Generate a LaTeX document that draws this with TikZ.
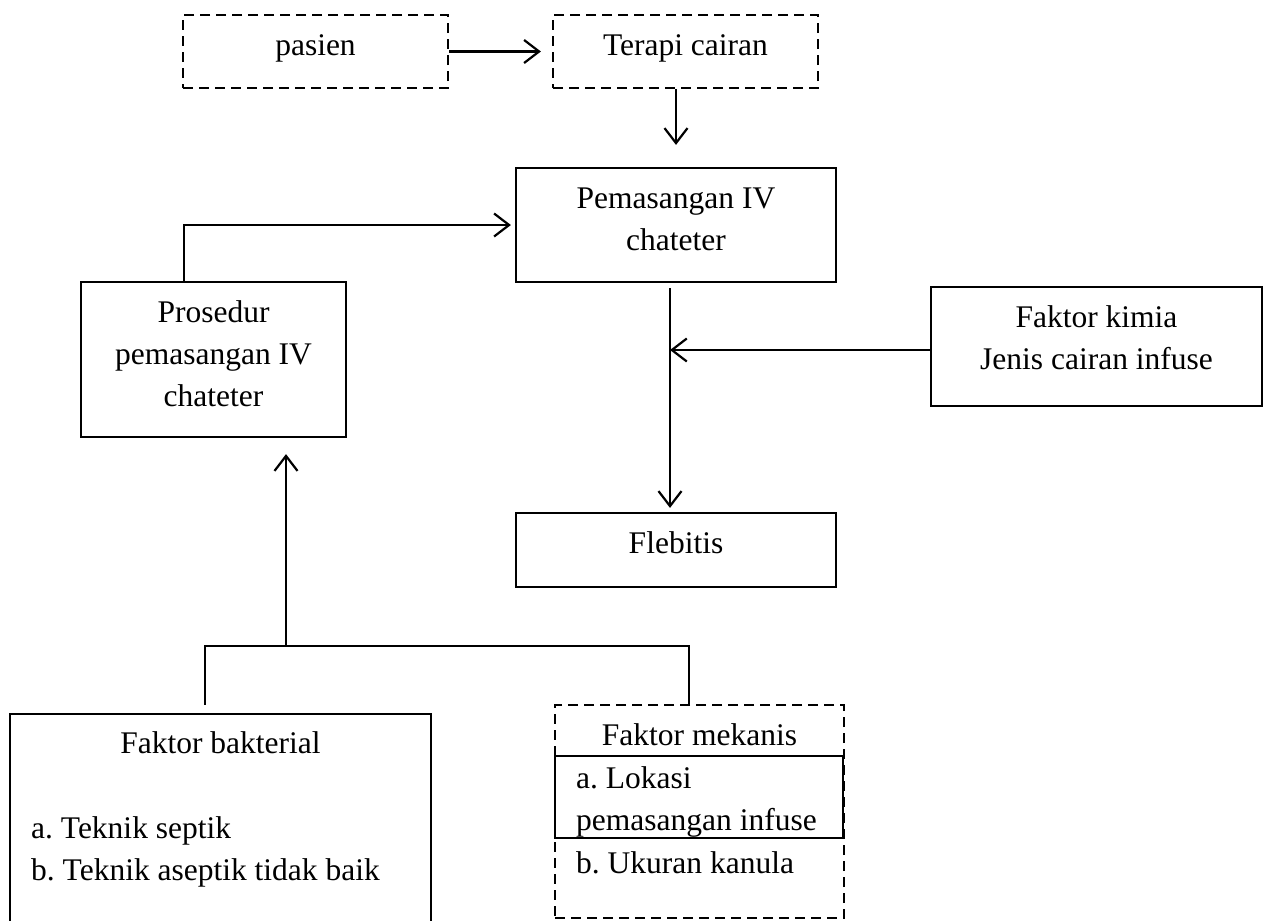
\documentclass[tikz,border=0pt]{standalone}
\usepackage{fontspec}
\setmainfont{Liberation Serif}
\usetikzlibrary{arrows.meta,calc}
\frenchspacing
\begin{document}
\begin{tikzpicture}[x=1pt,y=-1pt,
  box/.style={draw,line width=2.2pt,inner sep=0pt,rectangle},
  dbox/.style={box,dash pattern=on 10pt off 6pt},
  txt/.style={inner sep=0pt,anchor=base,font=\fontsize{31.5}{42}\selectfont},
  ltxt/.style={txt,anchor=base west},
  conn/.style={line width=2.2pt},
  arr/.style={conn,-{Straight Barb[length=15pt,width=23pt,line width=2.2pt]}}]
\useasboundingbox (0,0) rectangle (1267,921);
\clip (0,0) rectangle (1267,921);
% boxes
\node[dbox,minimum width=265,minimum height=73] (pasien) at (315.5,51.5) {};
\node[dbox,minimum width=265,minimum height=73] (terapi) at (685.5,51.5) {};
\node[box,minimum width=320,minimum height=114] (pemasangan) at (676,225) {};
\node[box,minimum width=265,minimum height=155] (prosedur) at (213.5,359.5) {};
\node[box,minimum width=331,minimum height=119] (kimia) at (1096.5,346.5) {};
\node[box,minimum width=320,minimum height=74] (flebitis) at (676,550) {};
\node[box,minimum width=421,minimum height=231] (bakterial) at (220.5,829.5) {};
\node[dbox,minimum width=289,minimum height=213] (mekanis) at (699.5,811.5) {};
\node[box,minimum width=288,minimum height=82] (mekinner) at (699,797) {};
% texts
\node[txt] (t1) at (315.5,55) {pasien};
\node[txt] (t2) at (685.5,55) {Terapi cairan};
\node[txt] (t3) at (676,208) {Pemasangan IV};
\node[txt] (t4) at (676,250) {chateter};
\node[txt] (t5) at (213.5,322) {Prosedur};
\node[txt] (t6) at (213.5,364) {pemasangan IV};
\node[txt] (t7) at (213.5,406) {chateter};
\node[txt] (t8) at (1096.5,327) {Faktor kimia};
\node[txt] (t9) at (1096.5,369) {Jenis cairan infuse};
\node[txt] (t10) at (676,553) {Flebitis};
\node[txt] (t11) at (220.5,753) {Faktor bakterial};
\node[ltxt] (t12) at (31,838) {a. Teknik septik};
\node[ltxt] (t13) at (31,880) {b. Teknik aseptik tidak baik};
\node[txt] (t14) at (699.5,745) {Faktor mekanis};
\node[ltxt] (t15) at (576,788) {a. Lokasi};
\node[ltxt] (t16) at (576,830) {pemasangan infuse};
\node[ltxt] (t17) at (576,873) {b. Ukuran kanula};
% connectors
\draw[arr,shorten >=11pt] (pasien.east) -- (terapi.west);
\draw[arr,shorten >=22pt] ([xshift=-9.5pt]terapi.south) -- ([xshift=-9.5pt]terapi.south |- pemasangan.north);
\coordinate (pt) at ([xshift=-29.5pt]prosedur.north);
\draw[arr,shorten >=4pt] (pt) |- (pemasangan.west);
\coordinate (jn) at (670,350);
\draw[arr,shorten <=5pt,shorten >=4pt] (pemasangan.south -| jn) -- (flebitis.north -| jn);
\draw[arr] (kimia.west |- jn) -- (jn);
\coordinate (bus) at (286,646);
\coordinate (bl) at ([xshift=-15.5pt,yshift=8pt]bakterial.north);
\coordinate (mr) at ([xshift=-10.5pt]mekanis.north);
\draw[conn] (bl) -- (bl |- bus) -- (mr |- bus) -- (mr);
\draw[arr,shorten >=16pt] (bus) -- (bus |- prosedur.south);
\end{tikzpicture}
\end{document}
